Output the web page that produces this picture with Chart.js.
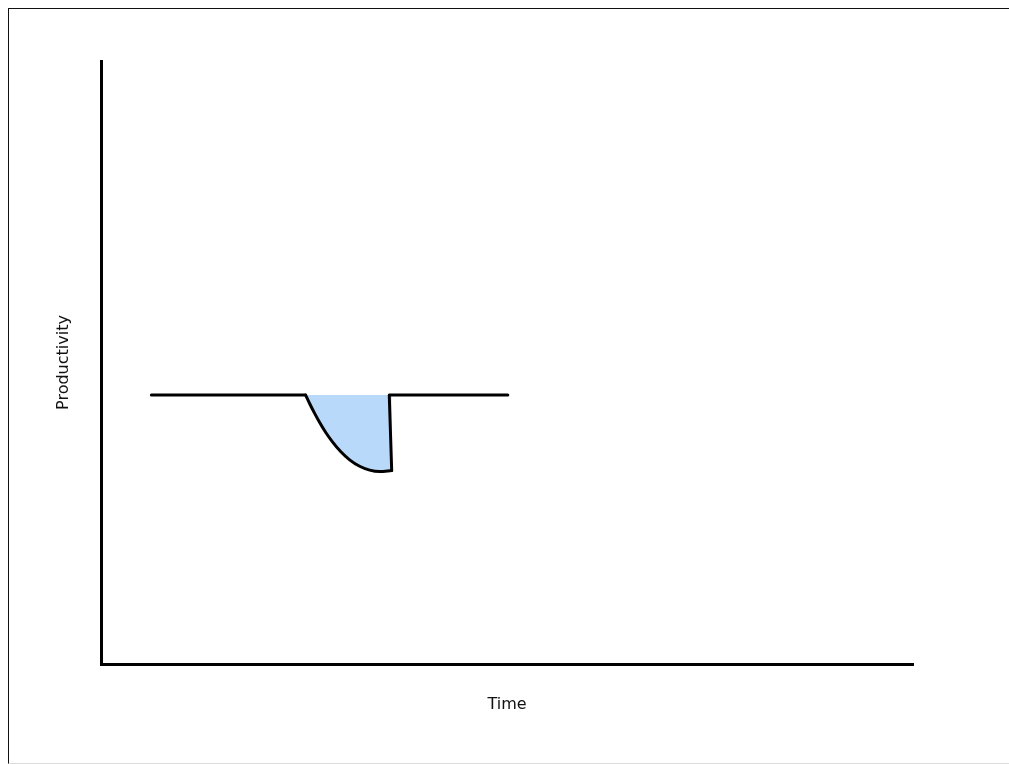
<!DOCTYPE html>
<html>
<head>
<meta charset="utf-8">
<script src="https://cdn.jsdelivr.net/npm/chart.js@4/dist/chart.umd.min.js"></script>
<style>
  html, body { margin: 0; padding: 0; background: #fff; width: 1009px; height: 764px; overflow: hidden; }
  .frame {
    position: absolute; left: 8px; top: 8px; width: 1010px; height: 754px;
    border-left: 1px solid #111; border-top: 1px solid #111; border-bottom: 1px solid #ddd;
  }
  .wrap { position: absolute; left: 0; top: 0; width: 1009px; height: 764px; }
</style>
</head>
<body>
<div class="frame"></div>
<div class="wrap"><canvas id="chart"></canvas></div>
<script>
// productivity over time, arbitrary units (0-100 on both axes)
const baseline = 44.6;
// the dip (smooth part), filled up to the baseline
const dipTime = [25.2, 25.69, 26.31, 26.93, 27.66, 28.53, 29.51, 30.62, 31.85, 33.09, 34.32, 35.8];
const dipProductivity = [44.6, 43.2, 41.56, 40.05, 38.44, 36.8, 35.23, 33.86, 32.79, 32.15, 31.91, 32.08];
// straight parts: flat before, jump back up, flat after
const beforeTime = [6.2, 25.2];
const beforeProductivity = [44.6, 44.6];
const afterTime = [35.8, 35.5, 50.1];
const afterProductivity = [32.08, 44.6, 44.6];
const axisTitles = { x: 'Time', y: 'Productivity' };

const toPoints = (xs, ys) => xs.map((t, i) => ({ x: t, y: ys[i] }));
const titleFont = { family: 'DejaVu Sans, sans-serif', size: 16 };

const lineStyle = {
    borderColor: '#000',
    borderWidth: 3,
    pointRadius: 0,
    borderCapStyle: 'round',
    borderJoinStyle: 'round',
    fill: false
};

new Chart(document.getElementById('chart'), {
    type: 'line',
    data: {
        datasets: [
            {
                ...lineStyle,
                data: toPoints(dipTime, dipProductivity),
                backgroundColor: 'rgb(185, 217, 251)',
                fill: { value: baseline },
                cubicInterpolationMode: 'monotone'
            },
            { ...lineStyle, data: toPoints(beforeTime, beforeProductivity), tension: 0 },
            { ...lineStyle, data: toPoints(afterTime, afterProductivity), tension: 0 }
        ]
    },
    options: {
        responsive: true,
        maintainAspectRatio: false,
        animation: false,
        layout: { padding: { top: 61, right: 96, left: 0, bottom: 0 } },
        plugins: {
            legend: { display: false },
            tooltip: { enabled: false },
            filler: { drawTime: 'beforeDatasetsDraw' }
        },
        scales: {
            x: {
                type: 'linear', min: 0, max: 100,
                grid: { display: false },
                ticks: { display: false },
                border: { display: true, color: '#000', width: 3 },
                title: { display: true, text: axisTitles.x, color: '#111', font: titleFont, padding: { top: 0, bottom: 50 } },
                afterFit: (scale) => { scale.height = 100; }
            },
            y: {
                type: 'linear', min: 0, max: 100,
                grid: { display: false },
                ticks: { display: false },
                border: { display: true, color: '#000', width: 3 },
                title: { display: true, text: axisTitles.y, color: '#111', font: titleFont, padding: { top: 54, bottom: 0 } },
                afterFit: (scale) => { scale.width = 101; }
            }
        }
    }
});
</script>
</body>
</html>
